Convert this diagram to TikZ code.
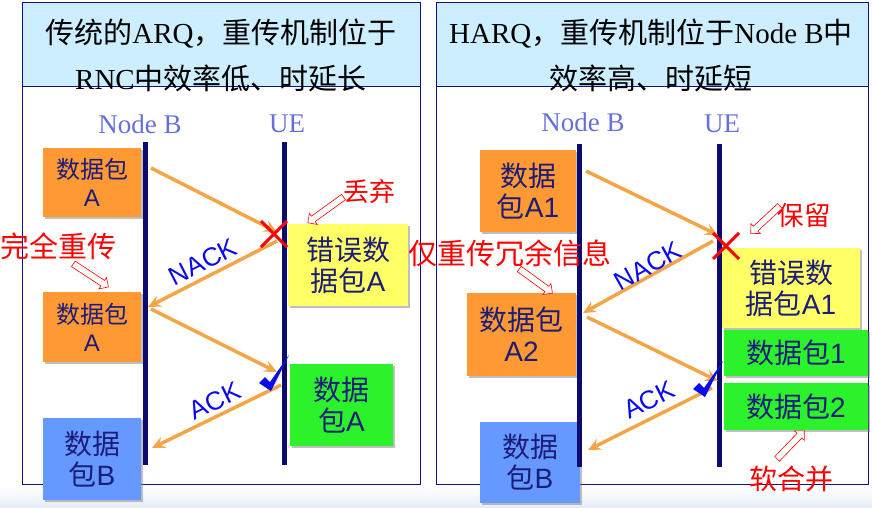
\documentclass[tikz,border=0pt]{standalone}
\usepackage{fontspec}
\setmainfont{Liberation Sans}
\newfontfamily\zh{Noto Sans CJK SC}
\newfontfamily\tnr{Liberation Serif}
\usetikzlibrary{arrows.meta,shapes.arrows,shadows}
\definecolor{framenavy}{HTML}{10108A}
\definecolor{lifenavy}{HTML}{0C0C70}
\definecolor{titlecyan}{HTML}{CCEEFF}
\definecolor{pktorange}{HTML}{FF9933}
\definecolor{erryellow}{HTML}{FFFF66}
\definecolor{okgreen}{HTML}{2BF22B}
\definecolor{nextblue}{HTML}{6699FF}
\definecolor{boxtext}{HTML}{1C1C7A}
\definecolor{msgorange}{HTML}{F5A447}
\definecolor{nodeslate}{HTML}{6670DD}
\definecolor{ackblue}{HTML}{0A0AEE}
\definecolor{bgfade}{HTML}{E6ECF6}

\begin{document}
\begin{tikzpicture}[x=1pt, y=-1pt,
      pkt/.style={text=boxtext, align=center, inner sep=0pt, fill=#1,
                  drop shadow={shadow xshift=2pt, shadow yshift=-2pt, fill=black!50, opacity=0.5}},
      big/.style={font=\fontsize{28}{31}\selectfont},
      small/.style={font=\fontsize{24}{28}\selectfont},
      life/.style={lifenavy, line width=5pt},
      msg/.style={msgorange, line width=3.5pt, -{Stealth[length=13pt, width=12pt, inset=5pt]}},
      lbl/.style={text=nodeslate, font=\tnr\fontsize{27}{30}\selectfont},
      note/.style={text=red, inner sep=0pt, font=\zh\fontsize{#1}{30}\selectfont},
      hint/.style={single arrow, draw=red, fill=white, line width=0.6pt, minimum height=#1,
                   minimum width=13pt, single arrow head extend=3.5pt, inner sep=3pt},
      sig/.style={text=ackblue, inner sep=0pt, font=\fontsize{26}{28}\selectfont},
      lost/.style={red, line width=3pt},
      ttl/.style={align=center, inner sep=0pt, font=\tnr\fontsize{29}{46}\selectfont}]
    \useasboundingbox (0,0) rectangle (872,507);
    \shade[top color=white, bottom color=bgfade] (0,486) rectangle (872,507);
    % panels
    \fill[titlecyan] (22,2) rectangle (420,86);
    \fill[titlecyan] (436,2) rectangle (868,86);
    \draw[framenavy, line width=1pt] (22,2) rectangle (420,484) (22,86) -- (420,86);
    \draw[framenavy, line width=1pt] (436,2) rectangle (868,484) (436,86) -- (868,86);
    \node[ttl] (tl) at (221,55) {{\zh 传统的}ARQ{\zh ，重传机制位于}\\RNC{\zh 中效率低、时延长}};
    \node[ttl] (tr) at (651,55) {HARQ{\zh ，重传机制位于}Node B{\zh 中}\\{\zh 效率高、时延短}};
    % left: ARQ
    \node[lbl] (nbl) at (140,124) {Node B};
    \node[lbl] (uel) at (287,124) {UE};
    \node[pkt=pktorange, small, minimum width=98pt, minimum height=69pt] (pa) at (92,182.5) {{\zh 数据包}\\A};
    \node[pkt=erryellow, big, minimum width=120pt, minimum height=82pt] (ea) at (348,265) {{\zh 错误数}\\{\zh 据包}A};
    \node[pkt=pktorange, small, minimum width=98pt, minimum height=70pt] (pa2) at (92,327) {{\zh 数据包}\\A};
    \node[pkt=okgreen, big, minimum width=103pt, minimum height=82pt] (oa) at (341.5,405) {{\zh 数据}\\{\zh 包}A};
    \node[pkt=nextblue, big, minimum width=98pt, minimum height=82pt] (pb) at (92,459) {{\zh 数据}\\{\zh 包}B};
    \coordinate (nbT) at (145,142); \coordinate (nbE) at (145,465);
    \coordinate (ueT) at (284,142); \coordinate (ueE) at (284,465);
    \draw[life] (nbT) -- (nbE); \draw[life] (ueT) -- (ueE);
    % right: HARQ
    \node[lbl] (nbr) at (583,122) {Node B};
    \node[lbl] (uer) at (722,124) {UE};
    \node[pkt=pktorange, big, minimum width=96pt, minimum height=82pt] (ha) at (528,191) {{\zh 数据}\\{\zh 包}A1};
    \node[pkt=erryellow, big, minimum width=138pt, minimum height=80pt] (he) at (791,288) {{\zh 错误数}\\{\zh 据包}A1};
    \node[pkt=okgreen, big, minimum width=144pt, minimum height=46pt] (hg1) at (796,353) {{\zh 数据包}1};
    \node[pkt=okgreen, big, minimum width=144pt, minimum height=47pt] (hg2) at (796,406.5) {{\zh 数据包}2};
    \node[pkt=pktorange, big, minimum width=109pt, minimum height=83pt] (ha2) at (521.5,334.5) {{\zh 数据包}\\A2};
    \node[pkt=nextblue, big, minimum width=100pt, minimum height=81pt] (hb) at (530,462.5) {{\zh 数据}\\{\zh 包}B};
    \coordinate (nbT2) at (579,144); \coordinate (nbE2) at (579,467);
    \coordinate (ueT2) at (719,144); \coordinate (ueE2) at (719,467);
    \draw[life] (nbT2) -- (nbE2); \draw[life] (ueT2) -- (ueE2);
    % messages
    \foreach \m/\p/\q in {m1/{151,168}/{277,232}, m2/{277,241}/{148,307}, m3/{151,309}/{277,372},
                          m4/{281,385}/{152,448}, h1/{586,171}/{718,235}, h2/{713,241}/{583,313},
                          h3/{587,317}/{718,381}, h4/{712,388}/{588,450}}
      {\coordinate (\m s) at (\p); \coordinate (\m e) at (\q); \draw[msg] (\m s) -- (\m e);}
    \node[sig, rotate=27] (nk) at (203,262) {NACK};
    \node[sig, rotate=26] (ak) at (215,401) {ACK};
    \node[sig, rotate=29] (nk2) at (648,266) {NACK};
    \node[sig, rotate=26.5] (ak2) at (649,400) {ACK};
    \draw[lost] (261,221) -- (287,247) (261,247) -- (287,221);
    \draw[lost] (713,233) -- (739,259) (713,259) -- (739,233);
    \fill[ackblue] (259,383) -- (265,377) -- (270,382) -- (289,355) -- (271,391) -- cycle;
    \fill[ackblue, shift={(434,6)}] (259,383) -- (265,377) -- (270,382) -- (289,355) -- (271,391) -- cycle;
    % notes
    \node[note=26] (qi) at (369,192) {丢弃};
    \node[hint=44pt, rotate=215.8] (qia) at (327,209) {};
    \node[note=29] (cc) at (58,246) {完全重传};
    \node[hint=42pt, rotate=-33.3] (cca) at (89.5,274.5) {};
    \node[note=26.5] (bl) at (804,215) {保留};
    \node[hint=40pt, rotate=223] (bla) at (766.5,218.5) {};
    \node[note=29] (ry) at (510,253) {仅重传冗余信息};
    \node[hint=41pt, rotate=-36] (rya) at (534.5,280) {};
    \node[note=28] (rh) at (791,479) {软合并};
    \node[hint=39pt, rotate=46] (rha) at (789.5,446) {};
  \end{tikzpicture}
\end{document}
